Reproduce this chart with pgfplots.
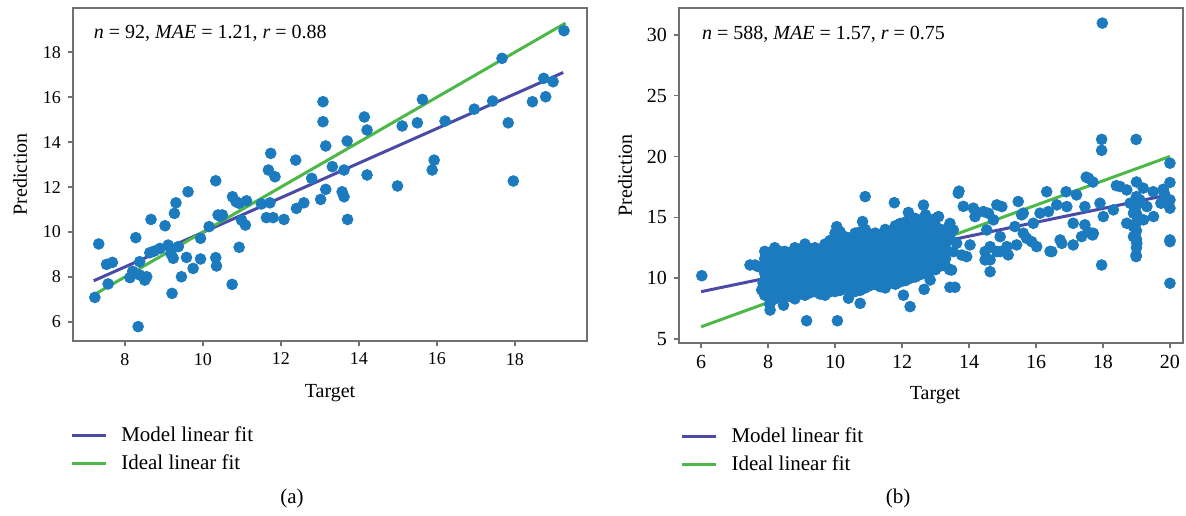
\documentclass[border=0pt]{standalone}
\usepackage{fontspec}
\setmainfont{Liberation Serif}
\usepackage{pgfplots}
\pgfplotsset{compat=1.18}
\definecolor{dotblue}{HTML}{1B7BBE}
\definecolor{fitmodel}{HTML}{4B4BA5}
\definecolor{fitideal}{HTML}{4DB748}
\definecolor{framegray}{HTML}{707070}

\pgfplotsset{
  panel/.style={
    scale only axis,
    axis line style={framegray, line width=0.8pt},
    tick style={framegray, line width=0.8pt},
    tick align=outside,
    xtick pos=left, ytick pos=left,
    major tick length=2.5pt,
    /pgf/number format/assume math mode=true,
    label style={font=\fontsize{10}{12}\selectfont},
    xlabel={Target}, ylabel={Prediction},
    legend style={draw=none, fill=none, font=\fontsize{10.5}{12}\selectfont,
      legend cell align=left, anchor=north west, row sep=1pt, column sep=5pt},
  },
  dots/.style={only marks, mark=*, mark size=2.7pt,
    mark options={draw=dotblue, fill=dotblue}, forget plot},
  modelfit/.style={fitmodel, line width=1.5pt},
  idealfit/.style={fitideal, line width=1.5pt},
}

\begin{document}
\begin{tikzpicture}
\useasboundingbox (0,0) rectangle (593pt,-257.5pt);

% ---------- (a)
\begin{axis}[panel,
  at={(36.5pt,-4pt)}, anchor=north west,
  width=257pt, height=166.5pt,
  xmin=6.67, xmax=19.85, ymin=5.15, ymax=19.97,
  xtick={8,10,...,18}, ytick={6,8,...,18},
  ticklabel style={font=\fontsize{9}{10}\selectfont},
  x label style={at={(axis description cs:0.5,-0.156)}, anchor=center},
  y label style={at={(axis description cs:-0.103,0.5)}, anchor=center},
  legend style={at={(axis description cs:-0.018,-0.232)}},
]
\addplot[dots] coordinates {
(13.08,15.80) (13.08,14.91) (13.15,13.83) (13.15,11.90) (13.02,11.45)
(11.74,13.50) (11.68,12.76) (11.85,12.46) (12.38,13.20) (12.79,12.39)
(12.59,11.30) (12.40,11.05) (11.63,10.64) (11.80,10.64) (12.08,10.56)
(11.72,11.30) (11.50,11.25) (10.33,12.28) (9.62,11.79) (9.31,11.30)
(9.27,10.83) (8.67,10.56) (9.03,10.28) (8.28,9.75) (7.33,9.47)
(10.76,11.57) (10.93,11.28) (11.12,11.39) (10.39,10.76) (10.50,10.76)
(10.99,10.53) (11.09,10.31) (10.16,10.24) (9.94,9.72) (10.93,9.32)
(10.33,8.86) (10.35,8.49) (9.94,8.80) (9.58,8.87) (9.75,8.38)
(9.45,8.01) (10.75,7.67) (9.21,7.27) (8.34,5.79) (7.23,7.09)
(7.57,7.69) (7.53,8.56) (7.68,8.65) (8.13,7.97) (8.38,8.09)
(8.51,7.86) (8.56,8.01) (8.38,8.68) (8.64,9.08) (8.90,9.27)
(9.11,9.42) (9.24,8.83) (9.37,9.35) (8.75,9.15) (9.18,9.05)
(8.20,8.25) (10.45,10.70) (10.85,11.35)
(19.26,18.96) (17.67,17.73) (18.74,16.84) (18.98,16.69) (18.79,16.02)
(18.45,15.80) (17.83,14.86) (17.96,12.27) (17.43,15.83) (16.96,15.47)
(16.21,14.94) (15.63,15.90) (15.50,14.86) (15.11,14.72) (14.99,12.05)
(15.93,13.20) (15.88,12.76) (14.14,15.12) (14.21,14.54) (13.70,14.05)
(13.32,12.91) (13.62,12.76) (14.21,12.54) (13.57,11.79) (13.62,11.57)
(13.71,10.56)
};
\addplot[modelfit] coordinates {(7.2,7.83) (19.24,17.10)};
\addlegendentry{Model linear fit}
\addplot[idealfit] coordinates {(7.2,7.2) (19.3,19.3)};
\addlegendentry{Ideal linear fit}
\node[anchor=west, font=\fontsize{10}{12}\selectfont] at (rel axis cs:0.027,0.925)
  {\textit{n} = 92, \textit{MAE} = 1.21, \textit{r} = 0.88};
\end{axis}

% ---------- (b)
\begin{axis}[panel,
  at={(339.5pt,-4pt)}, anchor=north west,
  width=252pt, height=167.5pt,
  xmin=5.34, xmax=20.39, ymin=4.67, ymax=32.2,
  xtick={6,8,...,20}, ytick={5,10,...,30},
  ticklabel style={font=\fontsize{10}{11}\selectfont},
  x label style={at={(axis description cs:0.508,-0.156)}, anchor=center},
  y label style={at={(axis description cs:-0.107,0.5)}, anchor=center},
  legend style={at={(axis description cs:-0.01,-0.228)}},
]
\addplot[dots] coordinates {
% dense core
(7.9,8.6) (7.9,9.2) (7.9,9.8) (7.9,10.4) (7.9,11.0) (7.9,11.6) (7.9,12.2)
(8.05,8.5) (8.05,9.1) (8.05,9.7) (8.05,10.3) (8.05,10.9) (8.05,11.5) (8.05,12.1)
(8.2,8.3) (8.2,8.9) (8.2,9.5) (8.2,10.1) (8.2,10.7) (8.2,11.3) (8.2,11.9) (8.2,12.5)
(8.35,8.6) (8.35,9.2) (8.35,9.8) (8.35,10.4) (8.35,11.0) (8.35,11.6) (8.35,12.2)
(8.5,8.6) (8.5,9.2) (8.5,9.8) (8.5,10.4) (8.5,11.0) (8.5,11.6) (8.5,12.2)
(8.65,8.5) (8.65,9.1) (8.65,9.7) (8.65,10.3) (8.65,10.9) (8.65,11.5) (8.65,12.1)
(8.8,8.3) (8.8,8.9) (8.8,9.5) (8.8,10.1) (8.8,10.7) (8.8,11.3) (8.8,11.9) (8.8,12.5)
(8.95,8.7) (8.95,9.3) (8.95,9.9) (8.95,10.5) (8.95,11.1) (8.95,11.7) (8.95,12.3)
(9.1,8.6) (9.1,9.2) (9.1,9.8) (9.1,10.4) (9.1,11.0) (9.1,11.6) (9.1,12.2) (9.1,12.8)
(9.25,8.8) (9.25,9.4) (9.25,10.0) (9.25,10.6) (9.25,11.2) (9.25,11.8) (9.25,12.4)
(9.4,8.9) (9.4,9.5) (9.4,10.1) (9.4,10.7) (9.4,11.3) (9.4,11.9) (9.4,12.5)
(9.55,8.7) (9.55,9.3) (9.55,9.9) (9.55,10.5) (9.55,11.1) (9.55,11.7) (9.55,12.3)
(9.7,8.6) (9.7,9.2) (9.7,9.8) (9.7,10.4) (9.7,11.0) (9.7,11.6) (9.7,12.2) (9.7,12.8)
(9.85,8.9) (9.85,9.5) (9.85,10.1) (9.85,10.7) (9.85,11.3) (9.85,11.9) (9.85,12.5) (9.85,13.1)
(10.0,8.9) (10.0,9.5) (10.0,10.1) (10.0,10.7) (10.0,11.3) (10.0,11.9) (10.0,12.5) (10.0,13.1) (10.0,13.7)
(10.15,9.0) (10.15,9.6) (10.15,10.2) (10.15,10.8) (10.15,11.4) (10.15,12.0) (10.15,12.6) (10.15,13.2) (10.15,13.8)
(10.3,9.2) (10.3,9.8) (10.3,10.4) (10.3,11.0) (10.3,11.6) (10.3,12.2) (10.3,12.8) (10.3,13.4)
(10.45,9.1) (10.45,9.7) (10.45,10.3) (10.45,10.9) (10.45,11.5) (10.45,12.1) (10.45,12.7) (10.45,13.3)
(10.6,8.9) (10.6,9.5) (10.6,10.1) (10.6,10.7) (10.6,11.3) (10.6,11.9) (10.6,12.5) (10.6,13.1) (10.6,13.7)
(10.75,9.0) (10.75,9.6) (10.75,10.2) (10.75,10.8) (10.75,11.4) (10.75,12.0) (10.75,12.6) (10.75,13.2) (10.75,13.8)
(10.9,9.2) (10.9,9.8) (10.9,10.4) (10.9,11.0) (10.9,11.6) (10.9,12.2) (10.9,12.8) (10.9,13.4) (10.9,14.0)
(11.05,9.4) (11.05,10.0) (11.05,10.6) (11.05,11.2) (11.05,11.8) (11.05,12.4) (11.05,13.0) (11.05,13.6)
(11.2,9.5) (11.2,10.1) (11.2,10.7) (11.2,11.3) (11.2,11.9) (11.2,12.5) (11.2,13.1) (11.2,13.7)
(11.35,9.3) (11.35,9.9) (11.35,10.5) (11.35,11.1) (11.35,11.7) (11.35,12.3) (11.35,12.9) (11.35,13.5)
(11.5,9.2) (11.5,9.8) (11.5,10.4) (11.5,11.0) (11.5,11.6) (11.5,12.2) (11.5,12.8) (11.5,13.4) (11.5,14.0)
(11.65,9.6) (11.65,10.2) (11.65,10.8) (11.65,11.4) (11.65,12.0) (11.65,12.6) (11.65,13.2) (11.65,13.8)
(11.8,9.5) (11.8,10.1) (11.8,10.7) (11.8,11.3) (11.8,11.9) (11.8,12.5) (11.8,13.1) (11.8,13.7) (11.8,14.3)
(11.95,9.7) (11.95,10.3) (11.95,10.9) (11.95,11.5) (11.95,12.1) (11.95,12.7) (11.95,13.3) (11.95,13.9) (11.95,14.5)
(12.1,9.8) (12.1,10.4) (12.1,11.0) (12.1,11.6) (12.1,12.2) (12.1,12.8) (12.1,13.4) (12.1,14.0) (12.1,14.6)
(12.25,10.0) (12.25,10.6) (12.25,11.2) (12.25,11.8) (12.25,12.4) (12.25,13.0) (12.25,13.6) (12.25,14.2)
(12.4,10.1) (12.4,10.7) (12.4,11.3) (12.4,11.9) (12.4,12.5) (12.4,13.1) (12.4,13.7) (12.4,14.3) (12.4,14.9)
(12.55,10.3) (12.55,10.9) (12.55,11.5) (12.55,12.1) (12.55,12.7) (12.55,13.3) (12.55,13.9) (12.55,14.5)
(12.7,10.4) (12.7,11.0) (12.7,11.6) (12.7,12.2) (12.7,12.8) (12.7,13.4) (12.7,14.0) (12.7,14.6) (12.7,15.2)
(12.85,10.6) (12.85,11.2) (12.85,11.8) (12.85,12.4) (12.85,13.0) (12.85,13.6) (12.85,14.2)
(13.0,10.7) (13.0,11.3) (13.0,11.9) (13.0,12.5) (13.0,13.1) (13.0,13.7) (13.0,14.3) (13.0,14.9)
(13.15,11.0) (13.15,11.6) (13.15,12.2) (13.15,12.8) (13.15,13.4) (13.15,14.0)
(13.3,11.0) (13.3,11.6) (13.3,12.2) (13.3,12.8) (13.3,13.4) (13.3,14.0)
% edges and outliers
(6.02,10.2) (7.46,11.08) (7.61,11.08) (7.70,10.95) (7.81,9.03) (7.85,9.6)
(8.06,7.38) (8.46,7.78) (8.05,7.85) (9.15,6.5) (10.07,6.5)
(10.9,16.7) (11.77,16.2) (12.19,15.4) (10.05,14.23) (10.82,14.65) (12.64,16.0) (13.09,15.06)
(10.40,8.35) (10.75,7.93) (12.04,8.6) (12.24,7.66) (12.66,9.08) (12.34,10.12) (12.84,9.85)
(13.43,9.25) (13.58,9.25) (13.42,10.7) (14.63,10.53) (14.48,11.5)
(13.68,16.98) (13.70,17.15) (13.83,15.9) (14.13,15.75) (14.18,15.06)
(13.43,14.5) (13.53,13.96) (13.43,13.28) (13.63,12.87) (13.53,12.18) (13.78,11.9) (13.93,11.77) (14.03,12.73) (13.48,10.67)
(14.43,15.47) (14.58,15.33) (14.83,16.02) (14.98,15.88) (14.73,14.79) (14.53,13.96) (14.93,13.41)
(14.63,12.59) (14.48,12.18) (14.83,12.18) (15.13,12.59) (15.17,11.91) (14.63,11.5) (14.93,12.18)
(15.47,16.3) (15.57,15.2) (15.37,14.24) (15.62,13.69) (15.42,12.73) (15.72,13.28) (15.87,13.0)
(16.02,12.59) (15.92,14.51) (16.12,15.34) (16.37,15.47) (15.62,15.34)
(16.32,17.1) (16.62,16.02) (16.92,15.88) (17.21,16.84) (17.46,15.88) (17.11,14.51) (17.46,14.38)
(17.71,13.69) (17.36,13.41) (16.72,13.14) (16.47,12.18) (16.77,12.86) (17.11,12.73) (17.69,13.55)
(17.55,13.8) (16.42,12.2) (16.9,17.1) (17.5,18.3) (17.57,18.2) (17.7,17.9) (17.96,11.08)
(17.98,30.96) (17.96,21.4) (17.96,20.5) (18.99,21.4)
(17.91,16.16) (18.01,15.06) (18.31,15.61) (18.51,17.53) (18.71,17.25) (18.81,16.16) (18.91,15.34)
(19.1,16.43) (18.71,14.51) (18.91,13.41) (19.01,12.87) (19.21,14.79) (19.51,15.06) (19.73,16.16)
(19.83,16.98) (18.91,14.24) (19.31,15.88) (18.4,17.6) (19.0,17.9) (19.2,17.4) (19.5,17.1) (19.8,17.3)
(18.99,11.77) (18.99,11.9) (19.0,12.5) (19.0,13.2) (19.0,13.9) (19.0,14.6) (19.0,15.3) (19.0,16.0) (19.0,16.7)
(20.0,19.45) (20.0,17.86) (20.0,16.43) (20.0,15.75) (20.0,13.14) (20.0,13.0) (20.0,9.58)
};
\addplot[modelfit] coordinates {(6,8.89) (19.95,16.84)};
\addlegendentry{Model linear fit}
\addplot[idealfit] coordinates {(6,6) (20,20)};
\addlegendentry{Ideal linear fit}
\node[anchor=west, font=\fontsize{10}{12}\selectfont] at (rel axis cs:0.032,0.922)
  {\textit{n} = 588, \textit{MAE} = 1.57, \textit{r} = 0.75};
\end{axis}

\node[font=\fontsize{10.5}{12}\selectfont] at (146pt,-249pt) {(a)};
\node[font=\fontsize{10.5}{12}\selectfont] at (449pt,-249pt) {(b)};
\end{tikzpicture}
\end{document}
